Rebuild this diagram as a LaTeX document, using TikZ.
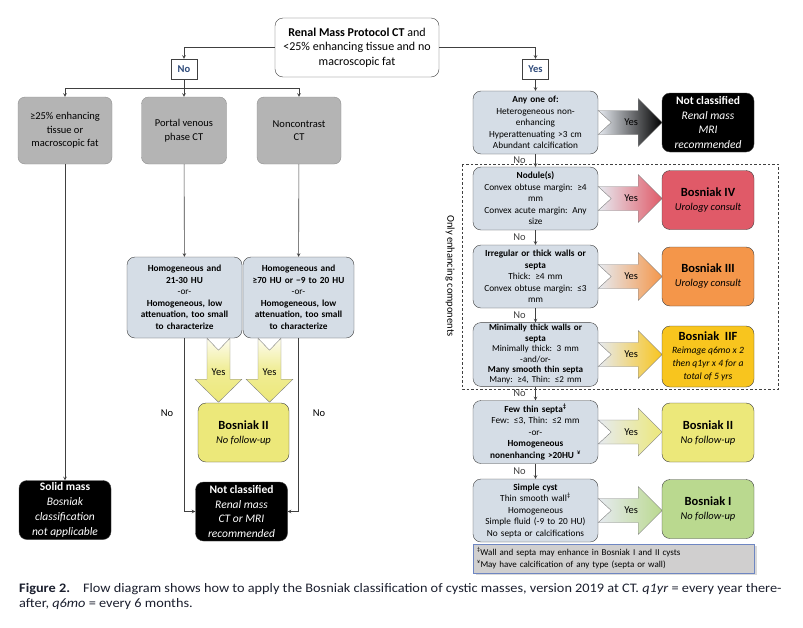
\documentclass[tikz,border=0pt]{standalone}
\usepackage{fontspec}
\setmainfont{Carlito}
\newfontfamily\captionfont{Carlito}[FakeStretch=1.1]
\usetikzlibrary{shadows}

\definecolor{cystblue}{HTML}{D5DDE6}
\definecolor{boxgray}{HTML}{B4B4B4}
\definecolor{rimgray}{HTML}{404040}
\definecolor{bosIV}{HTML}{E05A68}
\definecolor{bosIII}{HTML}{F4964A}
\definecolor{bosIIF}{HTML}{F8C51E}
\definecolor{bosII}{HTML}{ECE87A}
\definecolor{bosI}{HTML}{BAD98F}
\definecolor{answerblue}{HTML}{2E4A7A}
\definecolor{notegray}{HTML}{D0CFCF}
\definecolor{noteblue}{HTML}{6E86C2}
\definecolor{arrowtail}{HTML}{E6EAF0}
\definecolor{captionink}{HTML}{1B1F2E}

\tikzstyle{start}=[rectangle, rounded corners=8pt, draw=rimgray, fill=white, align=center, minimum width=164pt, minimum height=59pt, inner sep=1pt, font=\fontsize{12}{14.5}\selectfont]
\tikzstyle{answer}=[rectangle, draw=rimgray, fill=white, text=answerblue, font=\fontsize{10.5}{12}\selectfont\bfseries, minimum width=26pt, minimum height=20pt, inner sep=0pt]
\tikzstyle{protocol}=[rectangle, rounded corners=7pt, draw=boxgray!80!black, fill=boxgray, align=center, minimum height=67pt, font=\fontsize{10.5}{13.5}\selectfont]
\tikzstyle{question}=[rectangle, rounded corners=8pt, draw=rimgray, fill=cystblue, align=center, inner sep=2pt, text width=121pt, minimum height=63pt, font=\fontsize{9.3}{11.5}\selectfont]
\tikzstyle{outcome}=[rectangle, rounded corners=8pt, draw=rimgray, align=center, inner sep=0pt, minimum width=92pt, minimum height=59pt, font=\fontsize{10.5}{14}\selectfont]
\tikzstyle{unclassed}=[outcome, fill=black, text=white, font=\fontsize{11.5}{14.8}\selectfont]
\tikzstyle{nolabel}=[inner sep=0pt, font=\fontsize{10.5}{12}\selectfont]
\tikzstyle{pointto}=[->,>=stealth,rimgray,line width=0.6pt]

\newcommand{\verdict}[1]{{\fontsize{12.5}{15}\selectfont\bfseries #1}}

% wide notched "Yes" arrows
\newcommand{\yesright}[3]{%
  \shade[left color=arrowtail, right color=#3, draw=gray, shift={(#2.east)}]
    (0,-12) -- (40,-12) -- (40,-24) -- (64,0) -- (40,24) -- (40,12) -- (0,12) -- (13,0) -- cycle;
  \node[nolabel] (#1) at ([xshift=33pt]#2.east) {Yes};}
\newcommand{\yesdown}[3]{%
  \shade[top color=bosII!12, bottom color=bosII, middle color=bosII!80, draw=gray, shift={([xshift=#3]#2.south)}]
    (-11.5,0) -- (-11.5,41) -- (-23.5,41) -- (0,64) -- (23.5,41) -- (11.5,41) -- (11.5,0) -- (0,12) -- cycle;
  \node[nolabel] (#1) at ([xshift=#3,yshift=-34pt]#2.south) {Yes};}

\begin{document}
\begin{tikzpicture}[x=1pt,y=-1pt]
\useasboundingbox (0,0) rectangle (803,627);

\node[start] (protocol) at (357,47.5) {\textbf{Renal Mass Protocol CT} and\\<25\% enhancing tissue and no\\macroscopic fat};
\node[answer] (nobox) at (184,69) {No};
\node[answer] (yesbox) at (535.5,69) {Yes};

% left branch
\node[protocol, minimum width=94pt] (solidq) at (65,130.5) {≥25\% enhancing\\tissue or\\macroscopic fat};
\node[protocol, minimum width=85pt] (portal) at (184,130.5) {Portal venous\\phase CT};
\node[protocol, minimum width=84pt] (noncon) at (299,130.5) {Noncontrast\\CT};
\node[question, text width=111pt, minimum height=81pt] (portalhu) at (184.5,297.5) {\textbf{Homogeneous and}\\\textbf{21-30 HU}\\-or-\\\textbf{Homogeneous, low}\\\textbf{attenuation, too small}\\\textbf{to characterize}};
\node[question, text width=107pt, minimum height=81pt] (nonconhu) at (298.5,297.5) {\textbf{Homogeneous and}\\\textbf{≥70 HU or −9 to 20 HU}\\-or-\\\textbf{Homogeneous, low}\\\textbf{attenuation, too small}\\\textbf{to characterize}};
\node[unclassed] (solid) at (65,510) {\textbf{Solid mass}\\\textit{Bosniak}\\\textit{classification}\\\textit{not applicable}};
\node[unclassed] (ctmri) at (241.5,511.5) {\textbf{Not classified}\\\textit{Renal mass}\\\textit{CT or MRI}\\\textit{recommended}};
\yesdown{yesportal}{portalhu}{34pt}
\yesdown{yesnoncon}{nonconhu}{-29pt}
\node[outcome, fill=bosII, minimum width=91pt] (leftII) at (243.5,432.5) {\verdict{Bosniak II}\\\textit{No follow-up}};

\draw[pointto] (protocol.west) -| (nobox.north);
\draw[pointto] (protocol.east) -| (yesbox.north);
\coordinate (fork) at (184,88);
\draw[pointto] (fork) -| (solidq.north);
\draw[pointto] (fork) -| (noncon.north);
\draw[pointto] (nobox) -- (portal);
\draw[pointto] (solidq) -- (solid);
\draw[pointto] (portal) -- (portalhu);
\draw[pointto] (noncon) -- (nonconhu);
\draw[pointto] (portalhu.south) |- (ctmri.west);
\draw[pointto] (nonconhu.south) |- (ctmri.east);
\node[nolabel] (noleft) at (167,413) {No};
\node[nolabel] (noright) at (319,413) {No};

% right branch
\draw[dashed, dash pattern=on 2.5pt off 2pt, rimgray] (462,164) rectangle (778,389);
\node[rotate=-90, inner sep=0pt, font=\fontsize{10.5}{12}\selectfont] (enhancing) at (450,276) {Only enhancing components};

\node[question] (anyone) at (535.5,122.5) {\textbf{Any one of:}\\Heterogeneous non-\\enhancing\\Hyperattenuating >3 cm\\Abundant calcification};
\node[question] (nodule) at (535.5,198.5) {\textbf{Nodule(s)}\\Convex obtuse margin: ≥4\\mm\\Convex acute margin: Any\\size};
\node[question] (thick) at (535.5,276.5) {\textbf{Irregular or thick walls or}\\\textbf{septa}\\Thick: ≥4 mm\\Convex obtuse margin: ≤3\\mm};
\node[question, font=\fontsize{9.1}{10.4}\selectfont] (minimal) at (535.5,354.5) {\textbf{Minimally thick walls or}\\\textbf{septa}\\Minimally thick: 3 mm\\-and/or-\\\textbf{Many smooth thin septa}\\Many: ≥4, Thin: ≤2 mm};
\node[question] (fewsepta) at (535.5,432) {\textbf{Few thin septa\textsuperscript{‡}}\\Few: ≤3, Thin: ≤2 mm\\-or-\\\textbf{Homogeneous}\\\textbf{nonenhancing >20HU \textsuperscript{¥}}};
\node[question] (simple) at (535.5,510.5) {\textbf{Simple cyst}\\Thin smooth wall\textsuperscript{‡}\\Homogeneous\\Simple fluid (-9 to 20 HU)\\No septa or calcifications};

\yesright{yesany}{anyone}{black}
\yesright{yesnodule}{nodule}{bosIV}
\yesright{yesthick}{thick}{bosIII}
\yesright{yesminimal}{minimal}{bosIIF}
\yesright{yesfew}{fewsepta}{bosII}
\yesright{yessimple}{simple}{bosI}

\node[unclassed] (mri) at (708,122.5) {\textbf{Not classified}\\\textit{Renal mass}\\\textit{MRI}\\\textit{recommended}};
\node[outcome, fill=bosIV] (bIV) at (708,200) {\verdict{Bosniak IV}\\\textit{Urology consult}};
\node[outcome, fill=bosIII] (bIII) at (708,276.5) {\verdict{Bosniak III}\\\textit{Urology consult}};
\node[outcome, fill=bosIIF, minimum height=61pt, font=\fontsize{9.6}{13}\selectfont] (bIIF) at (708,356.5) {\verdict{Bosniak\ \ IIF}\\\textit{Reimage q6mo x 2}\\\textit{then q1yr x 4 for a}\\\textit{total of 5 yrs}};
\node[outcome, fill=bosII] (bII) at (708,432.5) {\verdict{Bosniak II}\\\textit{No follow-up}};
\node[outcome, fill=bosI] (bI) at (708,509) {\verdict{Bosniak I}\\\textit{No follow-up}};

\draw[pointto] (yesbox) -- (anyone);
\draw[pointto] (anyone) -- node[nolabel, xshift=-16pt] (noany) {No} (nodule);
\draw[pointto] (nodule) -- node[nolabel, xshift=-16pt] (nonodule) {No} (thick);
\draw[pointto] (thick) -- node[nolabel, xshift=-16pt] (nothick) {No} (minimal);
\draw[pointto] (minimal) -- node[nolabel, xshift=-16pt] (nominimal) {No} (fewsepta);
\draw[pointto] (fewsepta) -- node[nolabel, xshift=-16pt] (nofew) {No} (simple);

\node[rectangle, draw=noteblue, fill=notegray, drop shadow={opacity=0.3}, align=left, text width=274pt, minimum height=29pt, font=\fontsize{9}{12}\selectfont] (notes) at (614,558.5) {\textsuperscript{‡}Wall and septa may enhance in Bosniak I and II cysts\\\textsuperscript{¥}May have calcification of any type (septa or wall)};

\node[anchor=north west, inner sep=0pt, align=left, text=captionink, font=\captionfont\fontsize{13}{15}\selectfont] (caption) at (19,583) {\textbf{Figure 2.}\quad Flow diagram shows how to apply the Bosniak classification of cystic masses, version 2019 at CT. \textit{q1yr} = every year there-\\after, \textit{q6mo} = every 6 months.};
\end{tikzpicture}
\end{document}
